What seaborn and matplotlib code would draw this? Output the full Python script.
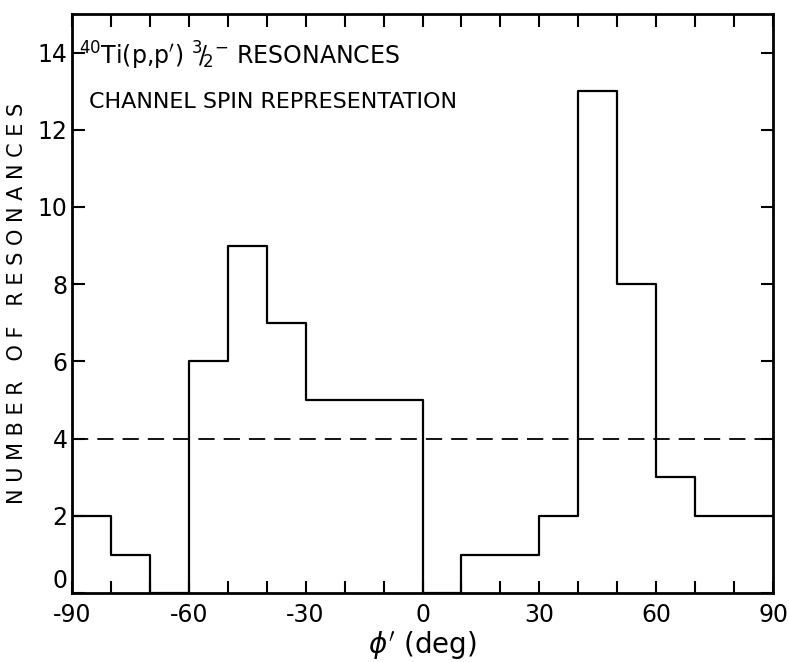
import numpy as np
import pandas as pd
import matplotlib
matplotlib.use("Agg")
import matplotlib.pyplot as plt
import seaborn as sns

bin_edges = list(range(-90, 91, 10))
counts = [2, 1, 0, 6, 9, 7, 5, 5, 5, 0, 1, 1, 2, 13, 8, 3, 2, 2]
mean_level = 4
x_ticks = [-90, -60, -30, 0, 30, 60, 90]
x_tick_labels = ["-90", "-60", "-30", "0", "30", "60", "90"]
y_ticks = [0, 2, 4, 6, 8, 10, 12, 14]

sns.set_theme(style="ticks")
plt.rcParams['font.family'] = ['DejaVu Sans']
plt.rcParams['text.color'] = 'black'
plt.rcParams['axes.labelcolor'] = 'black'
plt.rcParams['xtick.color'] = 'black'
plt.rcParams['ytick.color'] = 'black'

centers = [e + 5 for e in bin_edges[:-1]]
df = pd.DataFrame({"phi": centers, "n": counts})

fig = plt.figure(figsize=(7.89, 6.62), dpi=100)
ax = fig.add_axes([0.091, 0.104, 0.889, 0.875])
sns.histplot(data=df, x="phi", weights="n", bins=bin_edges, element="step",
             fill=False, color="black", linewidth=1.6, ax=ax)
ax.axhline(mean_level, color="black", linestyle=(0, (9, 5)), linewidth=1.3)

ax.set_xlim(-90, 90)
ax.set_ylim(0, 15)
ax.set_xticks(x_ticks)
ax.set_xticklabels(x_tick_labels)
ax.set_xticks(bin_edges, minor=True)
ax.set_yticks(y_ticks)
ax.tick_params(which="both", direction="in", top=True, right=True,
               length=9, width=1.5, labelsize=17, colors="black")
ax.tick_params(axis="x", which="both", pad=7)
ax.tick_params(axis="y", which="both", pad=3)
ax.get_yticklabels()[0].set_verticalalignment("bottom")
for s in ax.spines.values():
    s.set_visible(True)
    s.set_linewidth(2)
    s.set_color("black")

ax.set_xlabel(r"$\phi'$ (deg)", fontsize=20, labelpad=2)
ax.set_ylabel("N U M B E R   O F   R E S O N A N C E S", fontsize=15, labelpad=8)

ax.text(0.01, 0.955, r"$^{40}$Ti(p,p$'$) $^{3}\!/\!_{2}{}^{-}$ RESONANCES",
        transform=ax.transAxes, fontsize=17, va="top", ha="left")
ax.text(0.025, 0.865, "CHANNEL SPIN REPRESENTATION",
        transform=ax.transAxes, fontsize=16, va="top", ha="left")

fig.savefig("out.png", dpi=100)
